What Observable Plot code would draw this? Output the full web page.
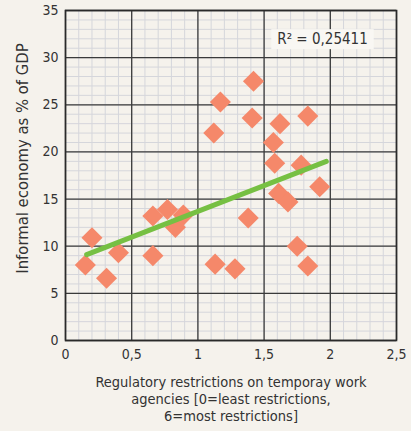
<!DOCTYPE html>
<html><head><meta charset="utf-8">
<script src="https://cdn.jsdelivr.net/npm/d3@7"></script>
<script src="https://cdn.jsdelivr.net/npm/@observablehq/plot@0.6"></script>
<style>
body{margin:0;background:#f5f2ec;}
</style></head><body><div id="chart"></div>
<script>
// Data
const xs = [0.15,0.20,0.31,0.40,0.66,0.66,0.77,0.83,0.89,1.12,1.17,1.13,1.28,1.38,1.41,1.42,1.57,1.58,1.62,1.61,1.68,1.75,1.78,1.83,1.83,1.92];
const ys = [8.0,10.9,6.6,9.3,13.2,9.0,13.9,12.0,13.3,22.0,25.3,8.1,7.6,13.0,23.6,27.5,21.0,18.8,23.0,15.6,14.7,10.0,18.6,7.9,23.8,16.3];
const trendX = [0.16, 1.97];
const trendY = [9.1, 19.0];
const xTicks = [0, 0.5, 1, 1.5, 2, 2.5];
const yTicks = [0, 5, 10, 15, 20, 25, 30, 35];
const r2Label = "R² = 0,25411";
const xLabel = "Regulatory restrictions on temporay work\nagencies [0=least restrictions,\n6=most restrictions]";
const yLabel = "Informal economy as % of GDP";

const points = xs.map((x, i) => ({x, y: ys[i]}));
const trend = trendX.map((x, i) => ({x, y: trendY[i]}));
const fmt = d => String(d).replace(".", ",");
const FONT = "'Liberation Sans Narrow', 'DejaVu Sans Condensed', Roboto, sans-serif";

const chart = Plot.plot({
  width: 411, height: 431,
  marginLeft: 65, marginRight: 15, marginTop: 10, marginBottom: 91,
  style: {background: "#f5f2ec", fontFamily: FONT, fontSize: "14px", color: "#333"},
  x: {domain: [0, 2.5], ticks: xTicks, tickFormat: fmt, tickSize: 0, tickPadding: 9, label: null},
  y: {domain: [0, 35], ticks: yTicks, tickSize: 0, tickPadding: 7, label: null},
  marks: [
    Plot.gridX(d3.range(0, 2.5001, 0.1), {stroke: "#d5d6db", strokeOpacity: 1, strokeWidth: 1}),
    Plot.gridY(d3.range(0, 35.001, 1), {stroke: "#d5d6db", strokeOpacity: 1, strokeWidth: 1}),
    Plot.gridX(xTicks, {stroke: "#3a3a3a", strokeOpacity: 1, strokeWidth: 1.3}),
    Plot.gridY(yTicks, {stroke: "#3a3a3a", strokeOpacity: 1, strokeWidth: 1.3}),
    Plot.frame({stroke: "#2a2a2a", strokeWidth: 1.6}),
    Plot.dot(points, {x: "x", y: "y", symbol: "diamond2", r: 9.5, fill: "#f5886a", stroke: null}),
    Plot.line(trend, {x: "x", y: "y", stroke: "#76c043", strokeWidth: 5}),
    Plot.text([r2Label], {frameAnchor: "top-right", dx: -74, dy: 23, fill: "#333", fontSize: 15, textAnchor: "middle", className: "r2"}),
    Plot.text([xLabel], {frameAnchor: "bottom", dy: 35, lineAnchor: "top", lineHeight: 1.15, fill: "#333", fontSize: 14.5}),
    Plot.text([yLabel], {frameAnchor: "left", rotate: -90, textAnchor: "middle", dx: -43, dy: -17, fill: "#333", fontSize: 16.5})
  ]
});
document.getElementById("chart").appendChild(chart);
// background box behind R² label
const t = chart.querySelector(".r2 text");
if (t) {
  const b = t.getBBox();
  const ns = "http://www.w3.org/2000/svg";
  const rect = document.createElementNS(ns, "rect");
  rect.setAttribute("x", b.x - 6); rect.setAttribute("y", b.y - 1);
  rect.setAttribute("width", b.width + 12); rect.setAttribute("height", b.height + 2);
  rect.setAttribute("fill", "#f9f7f3");
  const tr = t.getAttribute("transform");
  if (tr) rect.setAttribute("transform", tr);
  t.parentNode.insertBefore(rect, t);
}
</script></body></html>
